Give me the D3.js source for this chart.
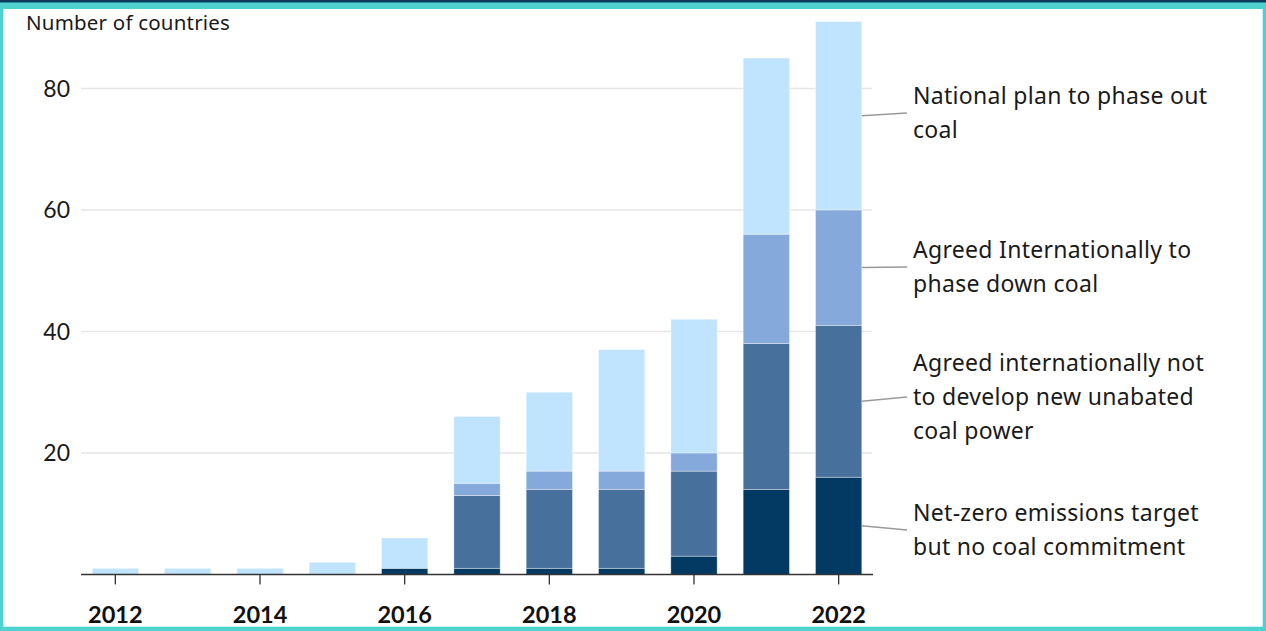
<!DOCTYPE html>
<html>
<head>
<meta charset="utf-8">
<script src="https://cdn.jsdelivr.net/npm/d3@7"></script>
<style>
  html, body { margin: 0; padding: 0; background: #fff; }
  body { width: 1266px; height: 631px; overflow: hidden; }
  svg { display: block; font-family: "Noto Sans", Lato, sans-serif; }
  .grid line { stroke: #e6e6e6; stroke-width: 1.5; }
  .leader { stroke: #9a9a9a; stroke-width: 1.5; fill: none; }
</style>
</head>
<body>
<svg id="chart" width="1266" height="631"></svg>
<script>
const YEARS = [2012, 2013, 2014, 2015, 2016, 2017, 2018, 2019, 2020, 2021, 2022];
const NET_ZERO = [0, 0, 0, 0, 1, 1, 1, 1, 3, 14, 16];
const NO_NEW_COAL = [0, 0, 0, 0, 0, 12, 13, 13, 14, 24, 25];
const PHASE_DOWN = [0, 0, 0, 0, 0, 2, 3, 3, 3, 18, 19];
const PHASE_OUT = [1, 1, 1, 2, 5, 11, 13, 20, 22, 29, 31];
const SERIES_KEYS = ['netZero', 'noNewCoal', 'phaseDown', 'phaseOut'];
const SERIES_LABELS = [
  ['Net-zero emissions target', 'but no coal commitment'],
  ['Agreed internationally not', 'to develop new unabated', 'coal power'],
  ['Agreed Internationally to', 'phase down coal'],
  ['National plan to phase out', 'coal'],
];
const Y_TICKS = [20, 40, 60, 80];
const X_TICKS = [2012, 2014, 2016, 2018, 2020, 2022];

const COLORS = ['#023a63', '#48709c', '#85a9da', '#c1e4fe'];
// where each leader line ends, next to its label block
const LABEL_ANCHOR_Y = [530, 397, 267, 113];

const WIDTH = 1266;
const HEIGHT = 631;
const PLOT_LEFT = 81;
const PLOT_RIGHT = 873;
const BASELINE_Y = 574.4;
const LABEL_X = 913;
const LINE_HEIGHT = 34;

const table = YEARS.map((year, i) => ({
  year: year,
  netZero: NET_ZERO[i],
  noNewCoal: NO_NEW_COAL[i],
  phaseDown: PHASE_DOWN[i],
  phaseOut: PHASE_OUT[i],
}));

const svg = d3.select('#chart');

const x = d3.scaleBand()
    .domain(YEARS)
    .range([PLOT_LEFT, PLOT_RIGHT])
    .paddingInner(0.36)
    .paddingOuter(0.155);

const y = d3.scaleLinear()
    .domain([0, 80])
    .range([BASELINE_Y, 88.4]);

// frame
svg.append('rect')
    .attr('x', 0).attr('y', 0)
    .attr('width', WIDTH).attr('height', HEIGHT)
    .attr('fill', '#4dd2cf');
svg.append('rect')
    .attr('x', 0).attr('y', 0)
    .attr('width', WIDTH).attr('height', 2.5)
    .attr('fill', '#0b3a5c');
svg.append('rect')
    .attr('x', 3.3).attr('y', 9)
    .attr('width', WIDTH - 6.6).attr('height', 626.7 - 9)
    .attr('fill', '#fff');

// gridlines
svg.append('g')
    .attr('class', 'grid')
    .selectAll('line')
    .data(Y_TICKS)
    .join('line')
    .attr('x1', PLOT_LEFT)
    .attr('x2', PLOT_RIGHT - 1)
    .attr('y1', d => y(d))
    .attr('y2', d => y(d));

// y labels
svg.append('g')
    .selectAll('text')
    .data(Y_TICKS)
    .join('text')
    .attr('x', 70)
    .attr('y', d => y(d))
    .attr('dy', '0.36em')
    .attr('text-anchor', 'end')
    .attr('font-family', 'Lato, sans-serif')
    .attr('font-size', 23)
    .attr('fill', '#1a1a1a')
    .text(d => d);

svg.append('text')
    .attr('x', 26)
    .attr('y', 30)
    .attr('font-size', 20.5)
    .attr('letter-spacing', 0.2)
    .attr('fill', '#1a1a1a')
    .text('Number of countries');

// stacked bars
const stacked = d3.stack().keys(SERIES_KEYS)(table);

svg.append('g')
    .selectAll('g')
    .data(stacked)
    .join('g')
    .attr('fill', (d, i) => COLORS[i])
    .selectAll('rect')
    .data(d => d.filter(seg => seg[1] > seg[0]))
    .join('rect')
    .attr('x', d => x(d.data.year))
    .attr('y', d => y(d[1]))
    .attr('width', x.bandwidth())
    .attr('height', d => y(d[0]) - y(d[1]))
    .attr('stroke', '#fff')
    .attr('stroke-opacity', 0.45)
    .attr('stroke-width', 0.8);

// x axis
const xAxis = svg.append('g')
    .attr('transform', `translate(0, ${BASELINE_Y})`)
    .call(d3.axisBottom(x).tickValues(X_TICKS).tickSize(10).tickSizeOuter(0).tickPadding(22));
xAxis.select('.domain')
    .attr('d', `M${PLOT_LEFT},0H${PLOT_RIGHT}`)
    .attr('stroke', '#333')
    .attr('stroke-width', 1.5);
xAxis.selectAll('.tick line').attr('stroke', '#333').attr('stroke-width', 1.3);
xAxis.selectAll('.tick text')
    .attr('font-family', 'Lato, sans-serif')
    .attr('font-size', 23.5)
    .attr('font-weight', 'bold')
    .attr('fill', '#111');

// leader lines and labels, attached to the last bar
const lastIndex = YEARS.length - 1;
const barRight = x(YEARS[lastIndex]) + x.bandwidth();

stacked.forEach((series, i) => {
  const seg = series[lastIndex];
  const startY = y((seg[0] + seg[1]) / 2);
  const endY = LABEL_ANCHOR_Y[i];
  svg.append('line')
      .attr('class', 'leader')
      .attr('x1', barRight)
      .attr('y1', startY)
      .attr('x2', LABEL_X - 6)
      .attr('y2', endY);

  const lines = SERIES_LABELS[i];
  const label = svg.append('text')
      .attr('font-size', 23)
      .attr('letter-spacing', 0.3)
      .attr('fill', '#1a1a1a');
  lines.forEach((line, j) => {
    label.append('tspan')
        .attr('x', LABEL_X)
        .attr('y', endY + 8 + (j - (lines.length - 1) / 2) * LINE_HEIGHT)
        .text(line);
  });
});
</script>
</body>
</html>
